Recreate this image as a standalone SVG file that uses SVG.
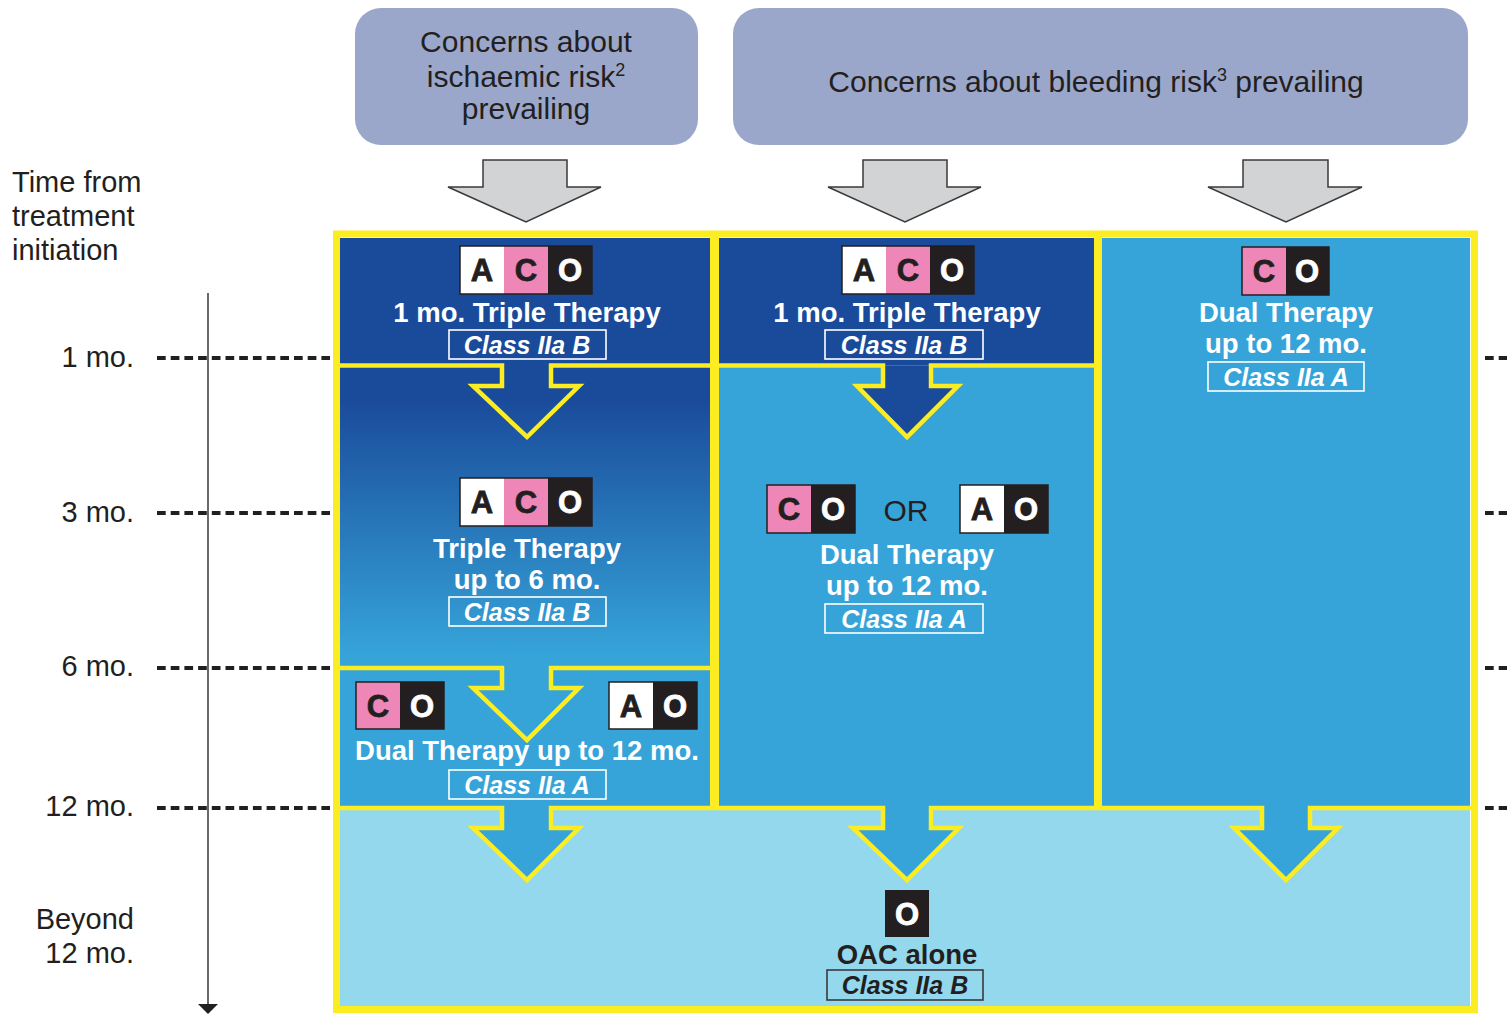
<svg xmlns="http://www.w3.org/2000/svg" width="1511" height="1015" viewBox="0 0 1511 1015">
<style>
.hdr{fill:#9aa7cb}
.htxt{font-family:"Liberation Sans",Arial,sans-serif;font-size:30px;fill:#231f20;text-anchor:middle}
.sup{font-size:18px}
.ax{font-family:"Liberation Sans",Arial,sans-serif;font-size:29px;fill:#231f20}
.axr{text-anchor:end}
.dash{stroke:#231f20;stroke-width:4;stroke-dasharray:8.7 5;fill:none}
.garrow{fill:#d1d3d4;stroke:#3a3a3a;stroke-width:1.5}
.yl{stroke:#fcec22;stroke-width:4.5;stroke-linejoin:miter}
.ylf{fill:#fcec22}
.dark{fill:#1a4b9b}
.med{fill:#36a4d9}
.light{fill:#94d8ee}
.btxt{font-family:"Liberation Sans",Arial,sans-serif;font-weight:bold;font-size:27.5px;fill:#fff;text-anchor:middle}
.ctxt{font-family:"Liberation Sans",Arial,sans-serif;font-weight:bold;font-style:italic;font-size:25px;fill:#fff;text-anchor:middle}
.cbox{fill:none;stroke:#fff;stroke-width:1.6}
.kbox{fill:none;stroke:#3a3a3a;stroke-width:1.6}
.cw{fill:#fff}
.cp{fill:#ee87b8}
.ck{fill:#231f20}
.bb{fill:none;stroke:#231f20;stroke-width:1.5}
.bl{font-family:"Liberation Sans",Arial,sans-serif;font-weight:bold;font-size:31px;text-anchor:middle;stroke-width:0.8}
.lk{fill:#231f20;stroke:#231f20}
.lw{fill:#fff;stroke:#fff}
.dk{fill:#231f20}
</style>
<defs>
<linearGradient id="g1" gradientUnits="userSpaceOnUse" x1="0" y1="400" x2="0" y2="655">
<stop offset="0" stop-color="#1a4b9b"/>
<stop offset="1" stop-color="#36a4d9"/>
</linearGradient>
</defs>
<rect width="1511" height="1015" fill="#fff"/>

<g id="header-ischaemic">
<rect class="hdr" x="355" y="8" width="343" height="137" rx="26"/>
<text class="htxt" x="526" y="52">Concerns about</text>
<text class="htxt" x="526" y="87">ischaemic risk<tspan class="sup" dy="-11">2</tspan></text>
<text class="htxt" x="526" y="119">prevailing</text>
</g>
<g id="header-bleeding">
<rect class="hdr" x="733" y="8" width="735" height="137" rx="26"/>
<text class="htxt" x="1096" y="92">Concerns about bleeding risk<tspan class="sup" dy="-11">3</tspan><tspan dy="11"> prevailing</tspan></text>
</g>

<g id="time-axis">
<text class="ax" x="12" y="192">Time from</text>
<text class="ax" x="12" y="226">treatment</text>
<text class="ax" x="12" y="260">initiation</text>
<text class="ax axr" x="134" y="367">1 mo.</text>
<text class="ax axr" x="134" y="522">3 mo.</text>
<text class="ax axr" x="134" y="676">6 mo.</text>
<text class="ax axr" x="134" y="816">12 mo.</text>
<text class="ax axr" x="134" y="929">Beyond</text>
<text class="ax axr" x="134" y="963">12 mo.</text>
<line x1="208" y1="293" x2="208" y2="1005" stroke="#444" stroke-width="1.6"/>
<polygon points="198,1004 218,1004 208,1014" fill="#231f20"/>
<path class="dash" d="M157,358H330M157,513H330M157,668H330M157,808H330M1485,358H1507M1485,513H1507M1485,668H1507M1485,808H1507"/>
</g>

<g id="backgrounds">
<rect class="light" x="340" y="808" width="1130" height="202"/>
<rect class="dark" x="340" y="238" width="370" height="128"/>
<rect fill="url(#g1)" x="340" y="365" width="370" height="304"/>
<rect class="med" x="340" y="668" width="370" height="140"/>
<rect class="dark" x="719" y="238" width="375" height="128"/>
<rect class="med" x="719" y="365" width="375" height="443"/>
<rect class="med" x="1102" y="238" width="368" height="570"/>
</g>

<g id="connectors">
<path class="yl" fill="none" d="M340,365.5H502V386H473L527,437L579,386H551V365.5H712"/>
<path class="yl dark" d="M717,365.5H883V386H857L907,437L958,386H931V365.5H1096"/>
<path class="yl med" d="M340,668H502V688H473L527,740L579,688H551V668H712"/>
<path class="yl med" d="M338,808H502V828H473L527,880L579,828H551V808H883V828H853L907,880L959,828H931V808H1262V828H1234L1286,880L1338,828H1310V808H1472"/>
<path class="garrow" d="M483,160H567V187H601L526,222L448,187H483Z"/>
<path class="garrow" d="M863,160H947V187H981L905,222L828,187H863Z"/>
<path class="garrow" d="M1243,160H1328V187H1362L1286,222L1208,187H1243Z"/>
</g>

<g id="frame">
<rect class="ylf" x="710" y="236" width="9" height="572"/>
<rect class="ylf" x="1094" y="236" width="8" height="572"/>
<rect x="336.5" y="234" width="1138" height="775.5" fill="none" stroke="#fcec22" stroke-width="7"/>
</g>

<g id="ischaemic-1mo">
<rect class="cw" x="460" y="246" width="44" height="48"/>
<rect class="cp" x="504" y="246" width="44" height="48"/>
<rect class="ck" x="548" y="246" width="44" height="48"/>
<rect class="bb" x="460" y="246" width="132" height="48"/>
<text class="bl lk" x="482" y="281">A</text>
<text class="bl lk" x="526" y="281">C</text>
<text class="bl lw" x="570" y="281">O</text>
<text class="btxt" x="527" y="322">1 mo. Triple Therapy</text>
<rect class="cbox" x="449" y="330" width="157" height="29"/>
<text class="ctxt" x="527" y="354">Class IIa B</text>
</g>

<g id="ischaemic-6mo">
<rect class="cw" x="460" y="478" width="44" height="48"/>
<rect class="cp" x="504" y="478" width="44" height="48"/>
<rect class="ck" x="548" y="478" width="44" height="48"/>
<rect class="bb" x="460" y="478" width="132" height="48"/>
<text class="bl lk" x="482" y="513">A</text>
<text class="bl lk" x="526" y="513">C</text>
<text class="bl lw" x="570" y="513">O</text>
<text class="btxt" x="527" y="558">Triple Therapy</text>
<text class="btxt" x="527" y="589">up to 6 mo.</text>
<rect class="cbox" x="449" y="597" width="157" height="29"/>
<text class="ctxt" x="527" y="621">Class IIa B</text>
</g>

<g id="ischaemic-12mo">
<rect class="cp" x="356" y="682" width="44" height="47"/>
<rect class="ck" x="400" y="682" width="44" height="47"/>
<rect class="bb" x="356" y="682" width="88" height="47"/>
<text class="bl lk" x="378" y="717">C</text>
<text class="bl lw" x="422" y="717">O</text>
<rect class="cw" x="609" y="682" width="44" height="47"/>
<rect class="ck" x="653" y="682" width="44" height="47"/>
<rect class="bb" x="609" y="682" width="88" height="47"/>
<text class="bl lk" x="631" y="717">A</text>
<text class="bl lw" x="675" y="717">O</text>
<text class="btxt" x="527" y="760">Dual Therapy up to 12 mo.</text>
<rect class="cbox" x="449" y="770" width="157" height="29"/>
<text class="ctxt" x="527" y="794">Class IIa A</text>
</g>

<g id="bleeding-1mo">
<rect class="cw" x="842" y="246" width="44" height="48"/>
<rect class="cp" x="886" y="246" width="44" height="48"/>
<rect class="ck" x="930" y="246" width="44" height="48"/>
<rect class="bb" x="842" y="246" width="132" height="48"/>
<text class="bl lk" x="864" y="281">A</text>
<text class="bl lk" x="908" y="281">C</text>
<text class="bl lw" x="952" y="281">O</text>
<text class="btxt" x="907" y="322">1 mo. Triple Therapy</text>
<rect class="cbox" x="825" y="330" width="158" height="29"/>
<text class="ctxt" x="904" y="354">Class IIa B</text>
</g>

<g id="bleeding-dual">
<rect class="cp" x="767" y="485" width="44" height="48"/>
<rect class="ck" x="811" y="485" width="44" height="48"/>
<rect class="bb" x="767" y="485" width="88" height="48"/>
<text class="bl lk" x="789" y="520">C</text>
<text class="bl lw" x="833" y="520">O</text>
<text class="htxt" x="906" y="521">OR</text>
<rect class="cw" x="960" y="485" width="44" height="48"/>
<rect class="ck" x="1004" y="485" width="44" height="48"/>
<rect class="bb" x="960" y="485" width="88" height="48"/>
<text class="bl lk" x="982" y="520">A</text>
<text class="bl lw" x="1026" y="520">O</text>
<text class="btxt" x="907" y="564">Dual Therapy</text>
<text class="btxt" x="907" y="595">up to 12 mo.</text>
<rect class="cbox" x="825" y="604" width="158" height="29"/>
<text class="ctxt" x="904" y="628">Class IIa A</text>
</g>

<g id="bleeding-col3">
<rect class="cp" x="1242" y="247" width="44" height="48"/>
<rect class="ck" x="1286" y="247" width="43" height="48"/>
<rect class="bb" x="1242" y="247" width="87" height="48"/>
<text class="bl lk" x="1264" y="282">C</text>
<text class="bl lw" x="1307" y="282">O</text>
<text class="btxt" x="1286" y="322">Dual Therapy</text>
<text class="btxt" x="1286" y="353">up to 12 mo.</text>
<rect class="cbox" x="1208" y="362" width="156" height="29"/>
<text class="ctxt" x="1286" y="386">Class IIa A</text>
</g>

<g id="oac-alone">
<rect class="ck" x="885" y="890" width="44" height="47"/>
<text class="bl lw" x="907" y="925">O</text>
<text class="btxt dk" x="907" y="964">OAC alone</text>
<rect class="kbox" x="827" y="970" width="156" height="30"/>
<text class="ctxt dk" x="905" y="994">Class IIa B</text>
</g>
</svg>
